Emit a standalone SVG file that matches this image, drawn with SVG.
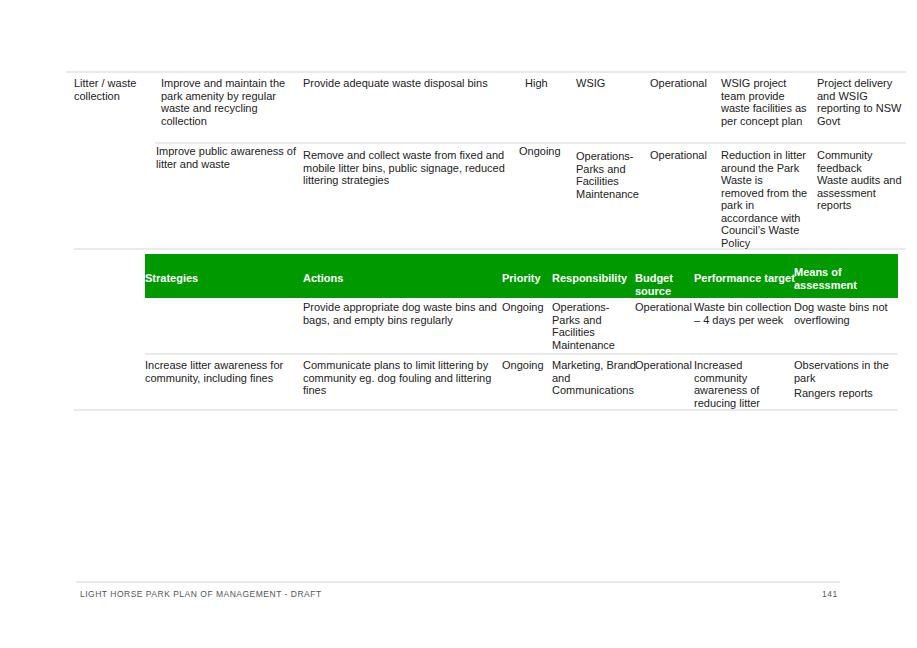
<svg xmlns="http://www.w3.org/2000/svg" width="917" height="648" viewBox="0 0 917 648">
<style>
text{font-family:"Liberation Sans",Arial,sans-serif;font-size:11px;fill:#222}
.h{fill:#fff;font-weight:bold}
.f{font-size:8.5px;fill:#555;letter-spacing:0.5px}
line{stroke:#d6d6d6;stroke-width:1.2}
</style>
<rect width="917" height="648" fill="#fff"/>
<line x1="66" y1="72" x2="906" y2="72"/>
<line x1="155" y1="143" x2="906" y2="143"/>
<line x1="74" y1="249" x2="906" y2="249"/>
<line x1="145" y1="354" x2="898" y2="354"/>
<line x1="74" y1="410" x2="898" y2="410"/>
<line x1="76" y1="582" x2="840" y2="582" stroke="#bbb"/>
<rect x="145" y="254" width="753" height="44" fill="#009900"/>
<g>
<text x="74" y="87">Litter / waste<tspan x="74" dy="12.5">collection</tspan></text>
<text x="161" y="87">Improve and maintain the<tspan x="161" dy="12.5">park amenity by regular</tspan><tspan x="161" dy="12.5">waste and recycling</tspan><tspan x="161" dy="12.5">collection</tspan></text>
<text x="303" y="87">Provide adequate waste disposal bins</text>
<text x="525" y="87">High</text>
<text x="576" y="87">WSIG</text>
<text x="650" y="87">Operational</text>
<text x="721" y="87">WSIG project<tspan x="721" dy="12.5">team provide</tspan><tspan x="721" dy="12.5">waste facilities as</tspan><tspan x="721" dy="12.5">per concept plan</tspan></text>
<text x="817" y="87">Project delivery<tspan x="817" dy="12.5">and WSIG</tspan><tspan x="817" dy="12.5">reporting to NSW</tspan><tspan x="817" dy="12.5">Govt</tspan></text>
</g>
<g>
<text x="156" y="155">Improve public awareness of<tspan x="156" dy="12.5">litter and waste</tspan></text>
<text x="303" y="159">Remove and collect waste from fixed and<tspan x="303" dy="12.5">mobile litter bins, public signage, reduced</tspan><tspan x="303" dy="12.5">littering strategies</tspan></text>
<text x="519" y="155">Ongoing</text>
<text x="576" y="160">Operations-<tspan x="576" dy="12.5">Parks and</tspan><tspan x="576" dy="12.5">Facilities</tspan><tspan x="576" dy="12.5">Maintenance</tspan></text>
<text x="650" y="159">Operational</text>
<text x="721" y="159">Reduction in litter<tspan x="721" dy="12.5">around the Park</tspan><tspan x="721" dy="12.5">Waste is</tspan><tspan x="721" dy="12.5">removed from the</tspan><tspan x="721" dy="12.5">park in</tspan><tspan x="721" dy="12.5">accordance with</tspan><tspan x="721" dy="12.5">Council’s Waste</tspan><tspan x="721" dy="12.5">Policy</tspan></text>
<text x="817" y="159">Community<tspan x="817" dy="12.5">feedback</tspan><tspan x="817" dy="12.5">Waste audits and</tspan><tspan x="817" dy="12.5">assessment</tspan><tspan x="817" dy="12.5">reports</tspan></text>
</g>
<g>
<text class="h" x="145" y="282">Strategies</text>
<text class="h" x="303" y="282">Actions</text>
<text class="h" x="502" y="282">Priority</text>
<text class="h" x="552" y="282">Responsibility</text>
<text class="h" x="635" y="282">Budget<tspan x="635" dy="12.5">source</tspan></text>
<text class="h" x="694" y="282">Performance target</text>
<text class="h" x="794" y="276">Means of<tspan x="794" dy="12.5">assessment</tspan></text>
</g>
<g>
<text x="303" y="311">Provide appropriate dog waste bins and<tspan x="303" dy="12.5">bags, and empty bins regularly</tspan></text>
<text x="502" y="311">Ongoing</text>
<text x="552" y="311">Operations-<tspan x="552" dy="12.5">Parks and</tspan><tspan x="552" dy="12.5">Facilities</tspan><tspan x="552" dy="12.5">Maintenance</tspan></text>
<text x="635" y="311">Operational</text>
<text x="694" y="311">Waste bin collection<tspan x="694" dy="12.5">– 4 days per week</tspan></text>
<text x="794" y="311">Dog waste bins not<tspan x="794" dy="12.5">overflowing</tspan></text>
</g>
<g>
<text x="145" y="369">Increase litter awareness for<tspan x="145" dy="12.5">community, including fines</tspan></text>
<text x="303" y="369">Communicate plans to limit littering by<tspan x="303" dy="12.5">community eg. dog fouling and littering</tspan><tspan x="303" dy="12.5">fines</tspan></text>
<text x="502" y="369">Ongoing</text>
<text x="552" y="369">Marketing, Brand<tspan x="552" dy="12.5">and</tspan><tspan x="552" dy="12.5">Communications</tspan></text>
<text x="635" y="369">Operational</text>
<text x="694" y="369">Increased<tspan x="694" dy="12.5">community</tspan><tspan x="694" dy="12.5">awareness of</tspan><tspan x="694" dy="12.5">reducing litter</tspan></text>
<text x="794" y="369">Observations in the<tspan x="794" dy="12.5">park</tspan><tspan x="794" dy="15.5">Rangers reports</tspan></text>
</g>
<text class="f" x="80" y="597">LIGHT HORSE PARK PLAN OF MANAGEMENT - DRAFT</text>
<text class="f" x="822" y="597">141</text>
</svg>
